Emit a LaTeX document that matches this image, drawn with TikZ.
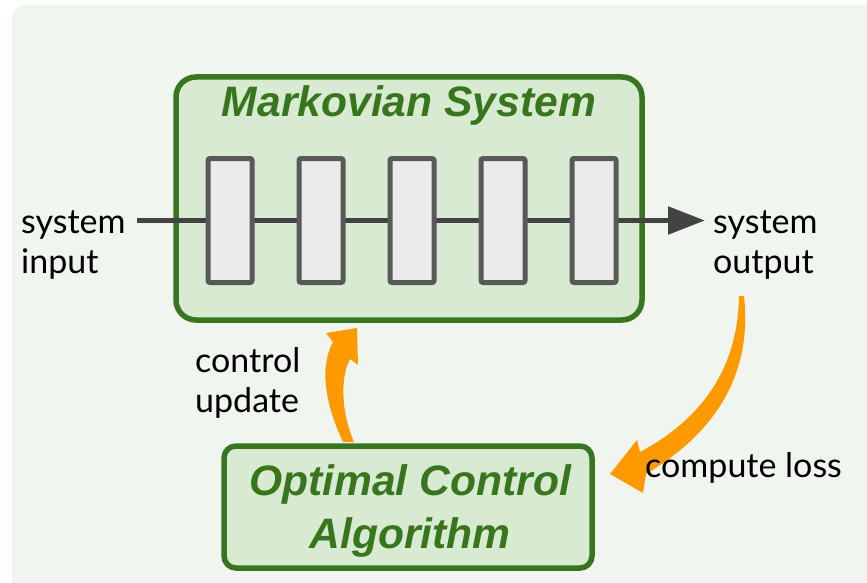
\documentclass[tikz,border=0pt]{standalone}
\usepackage{fontspec}
\setmainfont{Lato}
\newfontfamily\titlefont{Liberation Sans}
\usetikzlibrary{arrows.meta}
\definecolor{bgc}{HTML}{F1F5F0}
\definecolor{gdark}{HTML}{38761D}
\definecolor{glight}{HTML}{D9EAD3}
\definecolor{blkfill}{HTML}{EBEBEB}
\definecolor{blkline}{HTML}{595959}
\definecolor{flowc}{HTML}{434343}
\definecolor{orangec}{HTML}{FF9900}
\tikzset{
  greenbox/.style={draw=gdark, fill=glight, line width=5.5pt, inner sep=0pt},
  blk/.style={draw=blkline, fill=blkfill, line width=5pt, minimum width=44pt, minimum height=124pt, inner sep=0pt, rounded corners=2pt},
  titletext/.style={text=gdark, font=\titlefont\bfseries\itshape\fontsize{42.6}{53}\selectfont, align=center, inner sep=0pt},
  lbl/.style={font=\fontsize{34}{40}\selectfont, align=left, inner sep=0pt, text=black},
  flow/.style={draw=flowc, line width=5.5pt, -{Triangle[length=37pt,width=27pt]}},
  bigarrow/.style={fill=orangec, draw=none}
}
\begin{document}
\begin{tikzpicture}[x=1pt,y=-1pt]
\useasboundingbox (0,0) rectangle (867,583);
\fill[bgc, rounded corners=14pt] (12,5) rectangle (890,600);

% orange arrows (behind boxes)
\fill[bigarrow] (343,442) .. controls (321,395) and (322,362) .. (333,342)
  -- (326,333) -- (357,328) -- (358,365) -- (350,359)
  .. controls (341,375) and (340,410) .. (354,442) -- cycle;
\fill[bigarrow] (739,296) -- (744,296) .. controls (752,370) and (720,430) .. (646,474)
  -- (643,493) -- (610,474) -- (637,440) -- (640,452)
  .. controls (700,420) and (738,370) .. (739,296) -- cycle;

% Markovian system box
\node[greenbox, rounded corners=20pt, minimum width=466pt, minimum height=243pt] (ms) at (409,198.5) {};
\node[titletext, anchor=base] (mstitle) at (409,117) {Markovian System};

% flow line
\coordinate (lin) at (137,220.5);
\coordinate (lout) at (705,220.5);
\draw[flow] (lin) -- (lout);

% blocks
\node[blk] (b1) at (230,220.5) {};
\node[blk] (b2) at (321,220.5) {};
\node[blk] (b3) at (412,220.5) {};
\node[blk] (b4) at (503,220.5) {};
\node[blk] (b5) at (594,220.5) {};

% optimal control box
\node[greenbox, rounded corners=12pt, minimum width=368pt, minimum height=122pt] (oc) at (408,507) {};
\node[titletext, anchor=base] (octitle) at (410,548) {Optimal Control\\Algorithm};

% labels
\node[lbl, anchor=base west] (inlbl) at (21,273) {system\\input};
\node[lbl, anchor=base west] (outlbl) at (713,273) {system\\output};
\node[lbl, anchor=base west] (cu) at (195,412) {control\\update};
\node[lbl, anchor=base west] (cl) at (645,477) {compute loss};
\end{tikzpicture}
\end{document}
